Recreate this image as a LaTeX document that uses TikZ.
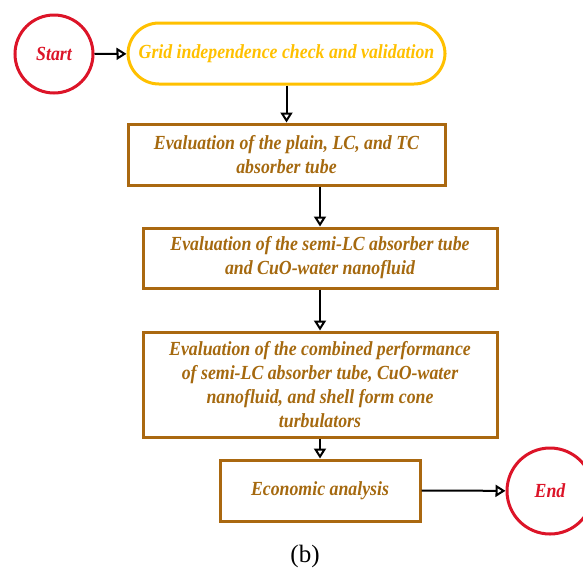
\documentclass[tikz,border=0pt]{standalone}
\usepackage{fontspec}
\setmainfont{Liberation Serif}
\newfontfamily\condfont[FakeStretch=0.89]{Liberation Serif}
\usetikzlibrary{arrows.meta}
\definecolor{startred}{RGB}{220,20,40}
\definecolor{gridorange}{RGB}{255,192,0}
\definecolor{boxbrown}{RGB}{170,104,16}
\definecolor{txtbrown}{RGB}{165,105,15}
\begin{document}
\begin{tikzpicture}[x=1pt,y=-1pt,
  term/.style={circle,draw=startred,line width=3pt,inner sep=0pt,text=startred,font=\condfont\fontsize{20}{24}\selectfont\bfseries\itshape},
  gridbox/.style={rectangle,rounded corners=31pt,draw=gridorange,line width=3pt,text=gridorange,minimum width=317pt,minimum height=61pt,inner sep=0pt,font=\condfont\fontsize{20}{24}\selectfont\bfseries\itshape},
  stepbox/.style={rectangle,draw=boxbrown,line width=3pt,text=txtbrown,inner sep=0pt,align=center,font=\condfont\fontsize{20}{24}\selectfont\bfseries\itshape},
  conn/.style={line width=2pt,-{Triangle[open,length=10pt,width=12pt,line width=2pt]}}]
\useasboundingbox (0,0) rectangle (583,571);
\node[term,minimum size=78pt] (start) at (54,54) {Start};
\node[gridbox] (grid) at (286.5,53.5) {Grid independence check and validation};
\node[stepbox,minimum width=317pt,minimum height=61pt] (b1) at (286.5,154.5) {Evaluation of the plain, LC, and TC\\absorber tube};
\node[stepbox,minimum width=354pt,minimum height=60pt] (b2) at (320,258) {Evaluation of the semi-LC absorber tube\\and CuO-water nanofluid};
\node[stepbox,minimum width=354pt,minimum height=105pt] (b3) at (320,384.5) {Evaluation of the combined performance\\of semi-LC absorber tube, CuO-water\\nanofluid, and shell form cone\\turbulators};
\node[stepbox,minimum width=200pt,minimum height=61pt] (b4) at (320,490.5) {Economic analysis};
\node[term,minimum size=86pt] (end) at (550,491) {End};
\node[font=\fontsize{25}{28}\selectfont] (cap) at (305,556) {(b)};
\draw[conn] (start) -- (grid);
\draw[conn] (grid.south) -- (b1.north);
\draw[conn] (b1.south -| b2.north) -- (b2.north);
\draw[conn] (b2.south) -- (b3.north);
\draw[conn] (b3.south) -- (b4.north);
\draw[conn] (b4.east) -- (end);
\end{tikzpicture}
\end{document}
